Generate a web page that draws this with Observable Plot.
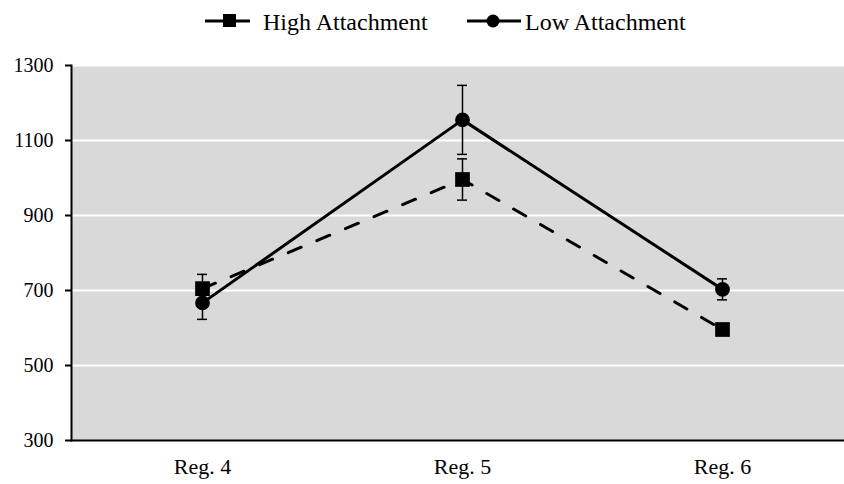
<!DOCTYPE html>
<html>
<head>
<meta charset="utf-8">
<script src="https://cdn.jsdelivr.net/npm/d3@7"></script>
<script src="https://cdn.jsdelivr.net/npm/@observablehq/plot@0.6"></script>
<style>
  html, body { margin: 0; padding: 0; background: #fff; overflow: hidden; }
  #legend { height: 45px; position: relative; font-family: "Liberation Serif", "Times New Roman", serif; font-size: 24px; color: #000; }
  #legend .item { position: absolute; top: 0; height: 45px; display: flex; align-items: center; }
  #legend svg { display: block; }
  #chart svg { display: block; }
</style>
</head>
<body>
<div id="legend"></div>
<div id="chart"></div>
<script>
const regions = ["Reg. 4", "Reg. 5", "Reg. 6"];
const seriesNames = ["High Attachment", "Low Attachment"];
const highMeans = [705, 996, 596];
const highErrors = [38, 55, 12];
const lowMeans = [667, 1155, 703];
const lowErrors = [44, 92, 28];
const yTicks = [300, 500, 700, 900, 1100, 1300];
const yDomain = [300, 1300];

const rows = [];
regions.forEach((r, i) => {
  rows.push({region: r, series: seriesNames[0], mean: highMeans[i], err: highErrors[i]});
  rows.push({region: r, series: seriesNames[1], mean: lowMeans[i], err: lowErrors[i]});
});
const high = rows.filter(d => d.series === seriesNames[0]);
const low = rows.filter(d => d.series === seriesNames[1]);

const font = "Liberation Serif, Times New Roman, serif";
const capInset = 125; // band 260 wide, cap 10 wide

const chart = Plot.plot({
  width: 844,
  height: 439,
  marginTop: 20,
  marginBottom: 44,
  marginLeft: 71,
  marginRight: 0,
  style: {fontFamily: font, fontSize: "20px", color: "#000", background: "transparent", overflow: "visible"},
  x: {type: "band", domain: regions, range: [72, 852], padding: 0, label: null},
  y: {domain: yDomain, label: null},
  marks: [
    Plot.frame({fill: "#d9d9d9", stroke: null}),
    Plot.ruleY(yTicks.slice(1), {stroke: "#fff", strokeWidth: 2}),
    Plot.ruleY([yDomain[0]], {stroke: "#000", strokeWidth: 2}),
    Plot.frame({anchor: "left", stroke: "#000", strokeWidth: 2}),
    Plot.axisY({ticks: yTicks, tickSize: 6, tickPadding: 12, tickFormat: d => String(d), fontSize: 20, strokeWidth: 2, stroke: "#000", fill: "#000", label: null}),
    Plot.axisX({tickSize: 0, tickPadding: 18, fontSize: 22, fill: "#000", label: null}),
    // error bars
    Plot.ruleX(rows, {x: "region", y1: d => d.mean - d.err, y2: d => d.mean + d.err, stroke: "#000", strokeWidth: 1.5}),
    Plot.tickY(rows, {x: "region", y: d => d.mean - d.err, stroke: "#000", strokeWidth: 1.5, insetLeft: capInset, insetRight: capInset}),
    Plot.tickY(rows, {x: "region", y: d => d.mean + d.err, stroke: "#000", strokeWidth: 1.5, insetLeft: capInset, insetRight: capInset}),
    // lines
    Plot.line(high, {x: "region", y: "mean", stroke: "#000", strokeWidth: 3, strokeDasharray: "14,17", strokeLinecap: "round"}),
    Plot.line(low, {x: "region", y: "mean", stroke: "#000", strokeWidth: 3}),
    Plot.dot(high, {x: "region", y: "mean", symbol: "square", r: 8.3, fill: "#000", stroke: null}),
    Plot.dot(low, {x: "region", y: "mean", symbol: "circle", r: 7.4, fill: "#000", stroke: null})
  ]
});
document.getElementById("chart").appendChild(chart);

// legend
const legend = document.getElementById("legend");
function addItem(left, name, kind) {
  const item = document.createElement("div");
  item.className = "item";
  item.style.left = left + "px";
  const w = kind === "square" ? 45 : 54;
  const ns = "http://www.w3.org/2000/svg";
  const s = document.createElementNS(ns, "svg");
  s.setAttribute("width", w); s.setAttribute("height", 45);
  const ln = document.createElementNS(ns, "line");
  ln.setAttribute("x1", 0); ln.setAttribute("x2", w); ln.setAttribute("y1", 21); ln.setAttribute("y2", 21);
  ln.setAttribute("stroke", "#000"); ln.setAttribute("stroke-width", 3);
  s.appendChild(ln);
  if (kind === "square") {
    const r = document.createElementNS(ns, "rect");
    r.setAttribute("x", 18); r.setAttribute("y", 14); r.setAttribute("width", 13); r.setAttribute("height", 13);
    r.setAttribute("fill", "#000");
    s.appendChild(r);
  } else {
    const c = document.createElementNS(ns, "circle");
    c.setAttribute("cx", 26); c.setAttribute("cy", 21); c.setAttribute("r", 6.5);
    c.setAttribute("fill", "#000");
    s.appendChild(c);
  }
  item.appendChild(s);
  const t = document.createElement("span");
  t.textContent = name;
  t.style.marginLeft = (kind === "square" ? 13 : 4) + "px";
  t.style.marginTop = "0px";
  item.appendChild(t);
  legend.appendChild(item);
}
addItem(205, seriesNames[0], "square");
addItem(467, seriesNames[1], "circle");
</script>
</body>
</html>
